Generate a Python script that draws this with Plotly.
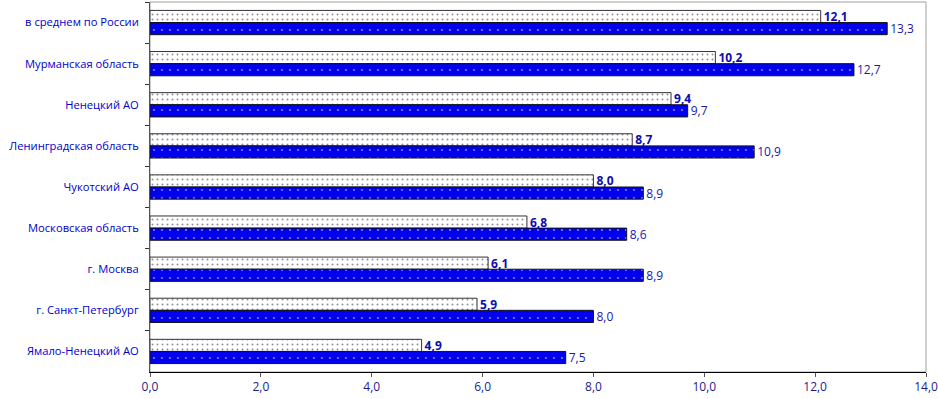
import plotly.graph_objects as go

categories = ["в среднем по России", "Мурманская область", "Ненецкий АО",
              "Ленинградская область", "Чукотский АО", "Московская область",
              "г. Москва", "г. Санкт-Петербург", "Ямало-Ненецкий АО"]
series_upper = [12.1, 10.2, 9.4, 8.7, 8.0, 6.8, 6.1, 5.9, 4.9]
series_lower = [13.3, 12.7, 9.7, 10.9, 8.9, 8.6, 8.9, 8.0, 7.5]
x_ticks = [0, 2, 4, 6, 8, 10, 12, 14]
x_tick_labels = ["0,0", "2,0", "4,0", "6,0", "8,0", "10,0", "12,0", "14,0"]

def fmt(v):
    return f"{v:.1f}".replace(".", ",")

FONT = "Open Sans"

fig = go.Figure()
fig.add_trace(go.Bar(
    y=categories, x=series_upper, orientation="h",
    marker=dict(color="white", line=dict(color="#333333", width=1),
                pattern=dict(shape=".", bgcolor="white", fgcolor="#1a1a40",
                             size=5, solidity=0.12)),
    text=[fmt(v) for v in series_upper], textposition="outside",
    constraintext="none",
    textfont=dict(family=FONT, size=12, color="#0c0cb0", weight="bold"),
    cliponaxis=False, hoverinfo="skip",
))
fig.add_trace(go.Bar(
    y=categories, x=series_lower, orientation="h",
    marker=dict(color="#0000ee", line=dict(color="#111111", width=1),
                pattern=dict(shape=".", bgcolor="#0000ee", fgcolor="white",
                             size=8, solidity=0.06)),
    text=[fmt(v) for v in series_lower], textposition="outside",
    constraintext="none",
    textfont=dict(family=FONT, size=12, color="#1818b0"),
    cliponaxis=False, hoverinfo="skip",
))

fig.update_layout(
    width=938, height=399,
    margin=dict(l=150, r=12, t=2, b=27, autoexpand=False),
    paper_bgcolor="white", plot_bgcolor="white",
    barmode="group", bargap=0.41, bargroupgap=0,
    showlegend=False,
    font=dict(family=FONT, size=11, color="#0000cc"),
    xaxis=dict(range=[0, 14], tickvals=x_ticks, ticktext=x_tick_labels,
               automargin=False,
               showgrid=False, zeroline=False, showline=True,
               linecolor="black", linewidth=1,
               ticks="outside", ticklen=4, tickcolor="#555555",
               tickfont=dict(family=FONT, size=12, color="#1c1c8c")),
    yaxis=dict(autorange="reversed", showgrid=False, zeroline=False,
               automargin=False,
               showline=True, linecolor="#555555", linewidth=1,
               ticks="outside", ticklen=4, tickcolor="#333333",
               tickson="boundaries", ticklabelstandoff=8,
               tickfont=dict(family=FONT, size=11.2, color="#0000cc")),
    shapes=[dict(type="rect", xref="paper", yref="paper", x0=0, x1=1, y0=0, y1=1,
                 line=dict(color="#a0a0a0", width=1), layer="below")],
)

fig.write_html("out.html", config={"displayModeBar": False},
               post_script="document.body.style.margin='0';document.body.style.overflow='hidden';")
